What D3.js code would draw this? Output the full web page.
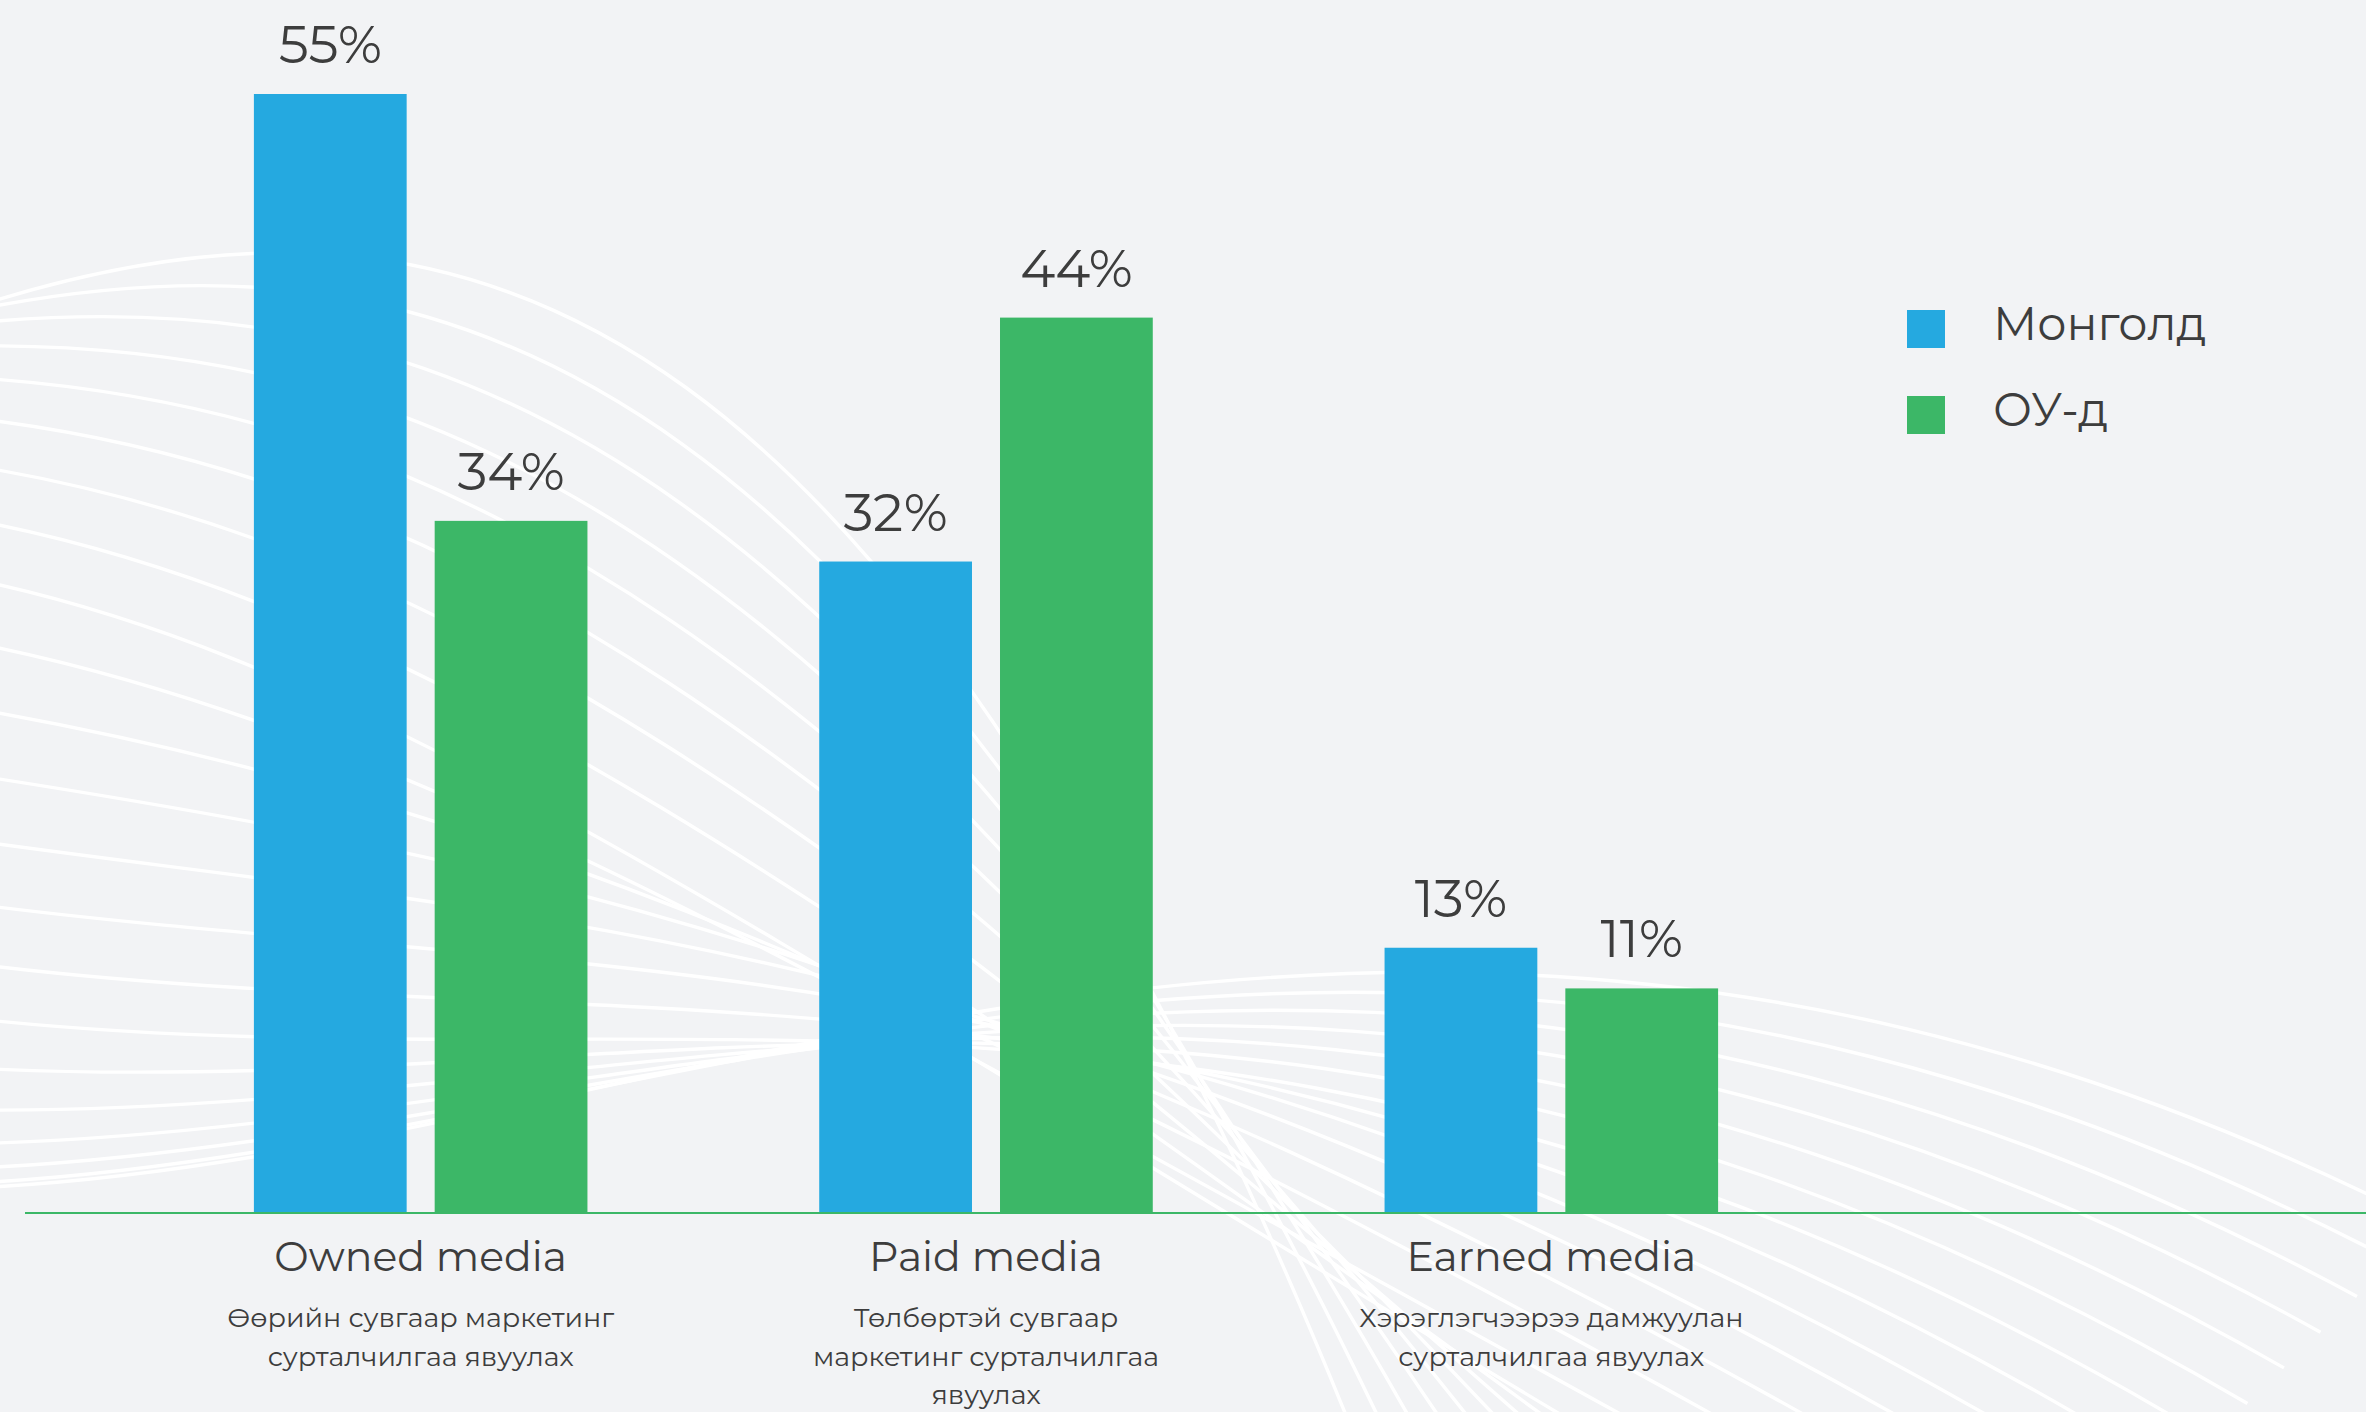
<!DOCTYPE html>
<html>
<head>
<meta charset="utf-8">
<script src="https://cdn.jsdelivr.net/npm/d3@7"></script>
<style>
  html, body { margin: 0; padding: 0; background: #f2f3f5; }
  svg { display: block; }
  text { font-family: "Montserrat", "Noto Sans", "Open Sans", sans-serif; fill: #3d3d3d; }
</style>
</head>
<body>
<svg id="chart" width="2366" height="1412"></svg>
<script>
// Media channel usage, Mongolia vs. foreign countries
const categories = ["Owned media", "Paid media", "Earned media"];
const subLabels = [
  ["Өөрийн сувгаар маркетинг", "сурталчилгаа явуулах"],
  ["Төлбөртэй сувгаар", "маркетинг сурталчилгаа", "явуулах"],
  ["Хэрэглэгчээрээ дамжуулан", "сурталчилгаа явуулах"]
];
const seriesNames = ["Монголд", "ОУ-д"];
const mongolia = [55, 32, 13];
const abroad = [34, 44, 11];
const seriesColors = ["#25a9e0", "#3cb767"];

const W = 2366, H = 1412;
const svg = d3.select("#chart");

svg.append("rect").attr("width", W).attr("height", H).attr("fill", "#f2f3f5");

// ---- decorative background: a twisted ribbon of thin white curves ----
// Each curve is a cubic Bézier; its control points are blended between key curves.
const deco = svg.append("g").attr("fill", "none").attr("stroke", "#ffffff").attr("stroke-width", 3.4);
const keyCurves = [
  { t: 0.0, c1: [480, 150], c2: [900, 300], p3: [1360, 1450] },
  { t: 0.4, c1: [400, 700], c2: [800, 1000], p3: [1650, 1460] },
  { t: 0.7, c1: [700, 1090], c2: [1300, 900], p3: [2200, 1450] },
  { t: 1.0, c1: [700, 1150], c2: [1400, 700], p3: [2430, 1225] }
];
const nLines = 22;
const lerp = (a, b, t) => [a[0] + (b[0] - a[0]) * t, a[1] + (b[1] - a[1]) * t];
for (let i = 0; i < nLines; i++) {
  const t = i / (nLines - 1);
  const e = (1 - Math.cos(Math.PI * t)) / 2;
  const p0 = [-10, 302 + (1187 - 302) * e];
  let j = 0;
  while (j < keyCurves.length - 2 && t > keyCurves[j + 1].t) j++;
  const a = keyCurves[j], b = keyCurves[j + 1];
  const k = (t - a.t) / (b.t - a.t);
  const c1 = lerp(a.c1, b.c1, k), c2 = lerp(a.c2, b.c2, k), p3 = lerp(a.p3, b.p3, k);
  const p = d3.path();
  p.moveTo(p0[0], p0[1]);
  p.bezierCurveTo(c1[0], c1[1], c2[0], c2[1], p3[0], p3[1]);
  deco.append("path").attr("d", p.toString());
}

// ---- scales ----
const x0 = d3.scaleBand().domain(categories).range([138, 1834]).paddingInner(0.41).paddingOuter(0.205);
const x1 = d3.scaleBand().domain(seriesNames).range([0, x0.bandwidth()]).paddingInner(0.155);
const y = d3.scaleLinear().domain([0, 55]).range([1212, 94]);

const rows = categories.map((c, i) => ({ cat: c, values: [mongolia[i], abroad[i]] }));

const groups = svg.append("g").selectAll("g").data(rows).join("g")
  .attr("transform", d => `translate(${x0(d.cat)},0)`);

groups.selectAll("rect").data(d => d.values.map((v, j) => ({ v, s: seriesNames[j], j })))
  .join("rect")
  .attr("x", d => x1(d.s))
  .attr("width", x1.bandwidth())
  .attr("y", d => y(d.v))
  .attr("height", d => y(0) - y(d.v))
  .attr("fill", d => seriesColors[d.j]);

groups.selectAll("text.val").data(d => d.values.map((v, j) => ({ v, s: seriesNames[j] })))
  .join("text")
  .attr("class", "val")
  .attr("x", d => x1(d.s) + x1.bandwidth() / 2)
  .attr("y", d => y(d.v) - 31)
  .attr("text-anchor", "middle")
  .attr("font-size", 53)
  .text(d => d.v + "%");

// baseline
svg.append("line")
  .attr("x1", 25).attr("x2", W)
  .attr("y1", y(0) + 1).attr("y2", y(0) + 1)
  .attr("stroke", "#3cb767").attr("stroke-width", 2.2);

// category labels
const labels = svg.append("g").selectAll("g").data(categories).join("g")
  .attr("transform", d => `translate(${x0(d) + x0.bandwidth() / 2},0)`);
labels.append("text")
  .attr("y", 1271)
  .attr("text-anchor", "middle")
  .attr("font-size", 41)
  .text(d => d);
labels.each(function (d, i) {
  d3.select(this).selectAll("text.sub").data(subLabels[i]).join("text")
    .attr("class", "sub")
    .attr("y", (s, k) => 1327 + k * 38.5)
    .attr("text-anchor", "middle")
    .attr("font-size", 27)
    .text(s => s);
});

// legend
const legend = svg.append("g").selectAll("g").data(seriesNames).join("g")
  .attr("transform", (d, i) => `translate(1907,${310 + i * 86})`);
legend.append("rect").attr("width", 38).attr("height", 38).attr("fill", (d, i) => seriesColors[i]);
legend.append("text").attr("x", 86).attr("y", 30).attr("font-size", 46).text(d => d);
</script>
</body>
</html>
